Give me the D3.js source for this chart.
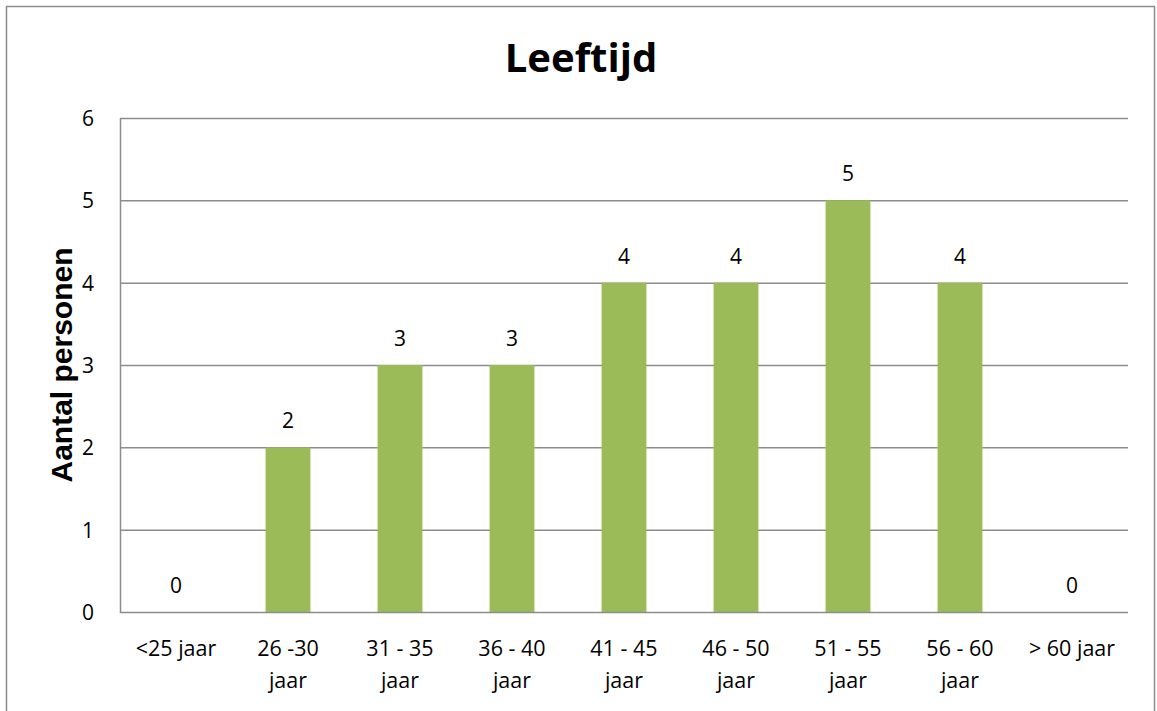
<!DOCTYPE html>
<html>
<head>
<meta charset="utf-8">
<script src="https://cdn.jsdelivr.net/npm/d3@7"></script>
<style>
  body { margin: 0; background: #fff; }
  text { font-family: "Open Sans", "Noto Sans", sans-serif; fill: #000; }
</style>
</head>
<body>
<svg id="chart" width="1157" height="711"></svg>
<script>
// categories and counts
var categories = [["<25 jaar"], ["26 -30", "jaar"], ["31 - 35", "jaar"], ["36 - 40", "jaar"],
  ["41 - 45", "jaar"], ["46 - 50", "jaar"], ["51 - 55", "jaar"], ["56 - 60", "jaar"], ["> 60 jaar"]];
var counts = [0, 2, 3, 3, 4, 4, 5, 4, 0];
var yTicks = [0, 1, 2, 3, 4, 5, 6];

var svg = d3.select('#chart');
var plotLeft = 120, plotRight = 1128, plotTop = 118, plotBottom = 612;

// outer frame
svg.append('rect')
  .attr('x', 6.5).attr('y', 6.5)
  .attr('width', 1148).attr('height', 720)
  .attr('fill', 'none').attr('stroke', '#8c8c8c').attr('stroke-width', 1.5);

var x = d3.scaleBand()
  .domain(d3.range(categories.length))
  .range([plotLeft, plotRight]);

var y = d3.scaleLinear().domain([0, 6]).range([plotBottom, plotTop]);

// gridlines
svg.append('g').selectAll('line')
  .data(yTicks.slice(1))
  .enter().append('line')
  .attr('x1', plotLeft).attr('x2', plotRight)
  .attr('y1', function(d){ return y(d) + 0.5 })
  .attr('y2', function(d){ return y(d) + 0.5 })
  .attr('stroke', '#8c8c8c').attr('stroke-width', 1.5);

// bars
var barW = x.bandwidth() * 0.4;
svg.append('g').selectAll('rect')
  .data(counts)
  .enter().append('rect')
  .attr('x', function(d, i){ return x(i) + (x.bandwidth() - barW) / 2 })
  .attr('y', function(d){ return y(d) })
  .attr('width', barW)
  .attr('height', function(d){ return plotBottom - y(d) })
  .attr('fill', '#9bbb59');

// value labels
svg.append('g').selectAll('text')
  .data(counts)
  .enter().append('text')
  .attr('x', function(d, i){ return x(i) + x.bandwidth() / 2 })
  .attr('y', function(d){ return y(d) - 19 })
  .attr('text-anchor', 'middle')
  .style('font-size', '21px')
  .text(function(d){ return d });

// axis lines
svg.append('line')
  .attr('x1', plotLeft + 0.5).attr('x2', plotLeft + 0.5)
  .attr('y1', plotTop).attr('y2', plotBottom + 1)
  .attr('stroke', '#8c8c8c').attr('stroke-width', 1.5);
svg.append('line')
  .attr('x1', plotLeft).attr('x2', plotRight)
  .attr('y1', plotBottom + 0.5).attr('y2', plotBottom + 0.5)
  .attr('stroke', '#8c8c8c').attr('stroke-width', 1.5);

// y tick labels
svg.append('g').selectAll('text')
  .data(yTicks)
  .enter().append('text')
  .attr('x', 94)
  .attr('y', function(d){ return y(d) + 8 })
  .attr('text-anchor', 'end')
  .style('font-size', '21px')
  .text(function(d){ return d });

// x category labels
var catLabels = svg.append('g').selectAll('text')
  .data(categories)
  .enter().append('text')
  .attr('x', function(d, i){ return x(i) + x.bandwidth() / 2 })
  .attr('y', 656)
  .attr('text-anchor', 'middle')
  .style('font-size', '21.5px');
catLabels.selectAll('tspan')
  .data(function(d){ return d })
  .enter().append('tspan')
  .attr('x', function(){ return d3.select(this.parentNode).attr('x') })
  .attr('dy', function(d, i){ return i ? 32 : 0 })
  .text(function(d){ return d });

// title
svg.append('text')
  .attr('x', 581).attr('y', 72)
  .attr('text-anchor', 'middle')
  .style('font-size', '40px').style('font-weight', 'bold')
  .text('Leeftijd');

// y axis title
svg.append('text')
  .attr('transform', 'translate(72,' + ((plotTop + plotBottom) / 2) + ') rotate(-90)')
  .attr('text-anchor', 'middle')
  .style('font-family', '"Liberation Sans", Arial, sans-serif')
  .style('font-size', '30px').style('font-weight', 'bold')
  .text('Aantal personen');
</script>
</body>
</html>
